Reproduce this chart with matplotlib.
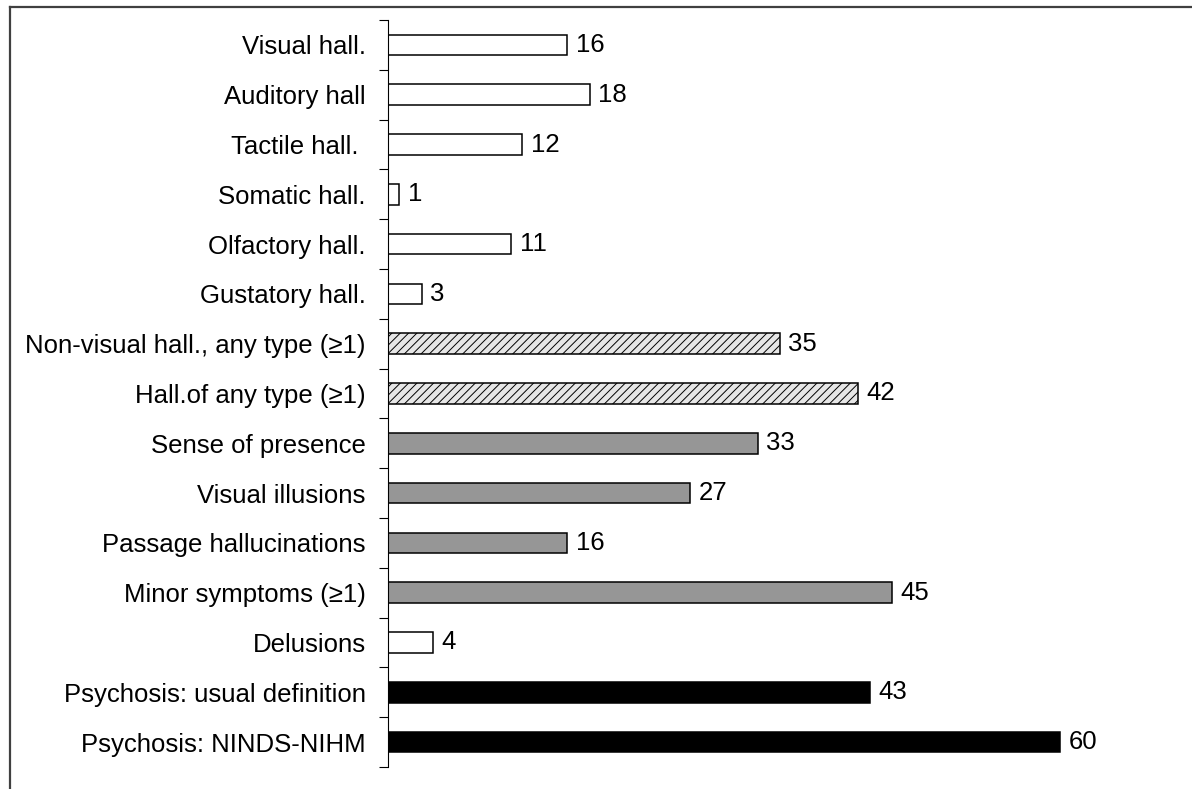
import matplotlib
matplotlib.use("Agg")
import matplotlib.pyplot as plt
from matplotlib.lines import Line2D
import numpy as np

plt.rcParams["font.family"] = ["Liberation Sans", "DejaVu Sans"]
plt.rcParams["hatch.linewidth"] = 0.7

categories = [
    "Visual hall.", "Auditory hall", "Tactile hall. ", "Somatic hall.",
    "Olfactory hall.", "Gustatory hall.", "Non-visual hall., any type (\u22651)",
    "Hall.of any type (\u22651)", "Sense of presence", "Visual illusions",
    "Passage hallucinations", "Minor symptoms (\u22651)", "Delusions",
    "Psychosis: usual definition", "Psychosis: NINDS-NIHM",
]
values = [16, 18, 12, 1, 11, 3, 35, 42, 33, 27, 16, 45, 4, 43, 60]
# bar style group for each category
groups = ["open"] * 6 + ["hatch"] * 2 + ["gray"] * 4 + ["open"] + ["black"] * 2

styles = {
    "open": dict(color="white", hatch=None),
    "hatch": dict(color="#e6e6e6", hatch="////"),
    "gray": dict(color="#969696", hatch=None),
    "black": dict(color="black", hatch=None),
}

W, H = 1192, 789
fig = plt.figure(figsize=(W / 100, H / 100), dpi=100)
ax = fig.add_axes([388 / W, 1 - 767 / H, (1172 - 388) / W, (767 - 20) / H])

y = np.arange(len(categories))
for yi, v, g in zip(y, values, groups):
    st = styles[g]
    ax.barh(yi, v, height=0.41, color=st["color"], hatch=st["hatch"],
            edgecolor="black", linewidth=1.1)
    ax.text(v + 0.75, yi, str(v), va="center", ha="left", fontsize=18.5)

ax.set_xlim(0, 70)
ax.set_ylim(len(categories) - 0.5, -0.5)
ax.set_yticks(y)
ax.set_yticklabels(categories, fontsize=18.5)
ax.tick_params(axis="y", which="major", length=0, pad=16)
ax.set_yticks(np.arange(-0.5, len(categories), 1.0), minor=True)
ax.tick_params(axis="y", which="minor", length=6.5, width=0.8, direction="out")
ax.set_xticks([])
for s in ["top", "right", "bottom"]:
    ax.spines[s].set_visible(False)
ax.spines["left"].set_linewidth(0.8)

# outer frame (partly cropped in the original)
fig.add_artist(Line2D([9.5 / W, 1], [1 - 6.5 / H] * 2, transform=fig.transFigure,
                      color="#404040", linewidth=1.6))
fig.add_artist(Line2D([9.5 / W] * 2, [0, 1 - 6.5 / H], transform=fig.transFigure,
                      color="#404040", linewidth=1.6))

fig.savefig("out.png", dpi=100)
